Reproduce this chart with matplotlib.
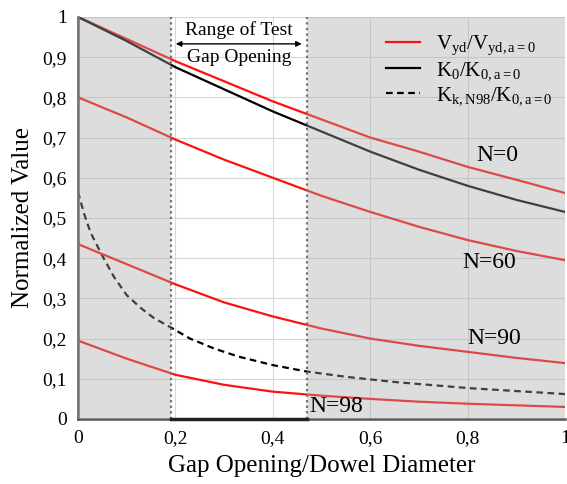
import numpy as np
import matplotlib
matplotlib.use('Agg')
import matplotlib.pyplot as plt
from matplotlib.ticker import FuncFormatter

plt.rcParams['font.family'] = ['Liberation Serif', 'DejaVu Serif']
plt.rcParams['mathtext.fontset'] = 'custom'
plt.rcParams['mathtext.rm'] = 'Liberation Serif'
plt.rcParams['mathtext.it'] = 'Liberation Serif'

# gap opening / dowel diameter
x = [0.0, 0.1, 0.2, 0.3, 0.4, 0.5, 0.6, 0.7, 0.8, 0.9, 1.0]
vyd_n0 = [1.0, 0.945, 0.89, 0.84, 0.79, 0.745, 0.70, 0.665, 0.627, 0.595, 0.562]
vyd_n60 = [0.8, 0.75, 0.695, 0.645, 0.60, 0.555, 0.515, 0.478, 0.445, 0.418, 0.395]
vyd_n90 = [0.435, 0.385, 0.335, 0.29, 0.255, 0.225, 0.20, 0.182, 0.167, 0.152, 0.139]
vyd_n98 = [0.195, 0.15, 0.11, 0.085, 0.068, 0.058, 0.05, 0.043, 0.038, 0.034, 0.03]
k0 = [1.0, 0.94, 0.875, 0.82, 0.765, 0.715, 0.665, 0.62, 0.58, 0.545, 0.515]

x_kk = [0.0, 0.012, 0.026, 0.049, 0.074, 0.1, 0.129, 0.156, 0.19, 0.23,
        0.28, 0.33, 0.4, 0.47, 0.55, 0.65, 0.8, 1.0]
kk_n98 = [0.565, 0.512, 0.463, 0.408, 0.353, 0.308, 0.276, 0.251, 0.228, 0.2,
          0.175, 0.155, 0.134, 0.118, 0.105, 0.092, 0.077, 0.062]

test_range = (0.19, 0.47)
curve_labels = ['N=0', 'N=60', 'N=90', 'N=98']
label_pos = [(0.86, 0.655), (0.845, 0.39), (0.855, 0.20), (0.53, 0.03)]

fig = plt.figure(figsize=(5.67, 4.84), dpi=100)
ax = fig.add_axes([0.1376, 0.1343, 0.859, 0.8307])

red = '#ff1010'
ax.plot(x, vyd_n0, color=red, lw=1.6, label=r'$\mathrm{V_{yd}/V_{yd,a=0}}$', zorder=2)
ax.plot(x, k0, color='black', lw=1.6, label=r'$\mathrm{K_{0}/K_{0,a=0}}$', zorder=2)
ax.plot(x_kk, kk_n98, color='black', lw=1.6, ls=(0, (3, 2)),
        label=r'$\mathrm{K_{k,N98}/K_{0,a=0}}$', zorder=2)
for vals in [vyd_n60, vyd_n90, vyd_n98]:
    ax.plot(x, vals, color=red, lw=1.6, zorder=2)

# grey shading outside the tested range (drawn over the curves)
ax.axvspan(0, test_range[0], color='#a8a8a8', alpha=0.38, lw=0, zorder=3)
ax.axvspan(test_range[1], 1, color='#a8a8a8', alpha=0.38, lw=0, zorder=3)
for xv in test_range:
    ax.axvline(xv, color='#707070', lw=1.6, ls=(0, (1, 1.5)), zorder=4)

ax.plot(test_range, [0, 0], color='#222222', lw=2.5, zorder=5, clip_on=False)

for txt, (tx, ty) in zip(curve_labels, label_pos):
    ax.text(tx, ty, txt, fontsize=17, ha='center', va='center', zorder=6)

mid = (test_range[0] + test_range[1]) / 2
ax.text(mid, 0.968, 'Range of Test', fontsize=14, ha='center', va='center', zorder=6)
ax.text(mid, 0.898, 'Gap Opening', fontsize=14, ha='center', va='center', zorder=6)
ax.annotate('', xy=(test_range[0] + 0.005, 0.933), xytext=(test_range[1] - 0.005, 0.933),
            arrowprops=dict(arrowstyle='<|-|>', color='black', lw=1, mutation_scale=8), zorder=6)

ax.set_xlim(0, 1)
ax.set_ylim(0, 1)
ax.set_xticks(np.arange(0, 1.01, 0.2))
ax.set_yticks(np.arange(0, 1.01, 0.1))
fmt = FuncFormatter(lambda v, p: ('%g' % round(v, 2)).replace('.', ','))
ax.xaxis.set_major_formatter(fmt)
ax.yaxis.set_major_formatter(fmt)
ax.tick_params(labelsize=14, length=0, pad=8)
ax.grid(True, color='#d8d8d8', lw=0.8, zorder=1)
ax.set_axisbelow(True)
for s in ['top', 'right']:
    ax.spines[s].set_visible(False)
for s in ['left', 'bottom']:
    ax.spines[s].set_color('#555555')
    ax.spines[s].set_linewidth(1.8)

ax.set_xlabel('Gap Opening/Dowel Diameter', fontsize=18, labelpad=6)
ax.set_ylabel('Normalized Value', fontsize=18, labelpad=6)

leg = ax.legend(loc='upper right', bbox_to_anchor=(1.0, 0.99), fontsize=15, frameon=False,
                handlelength=1.6, labelspacing=0.15, borderaxespad=0.2)
leg.set_zorder(7)

fig.savefig('out.png', dpi=100)
